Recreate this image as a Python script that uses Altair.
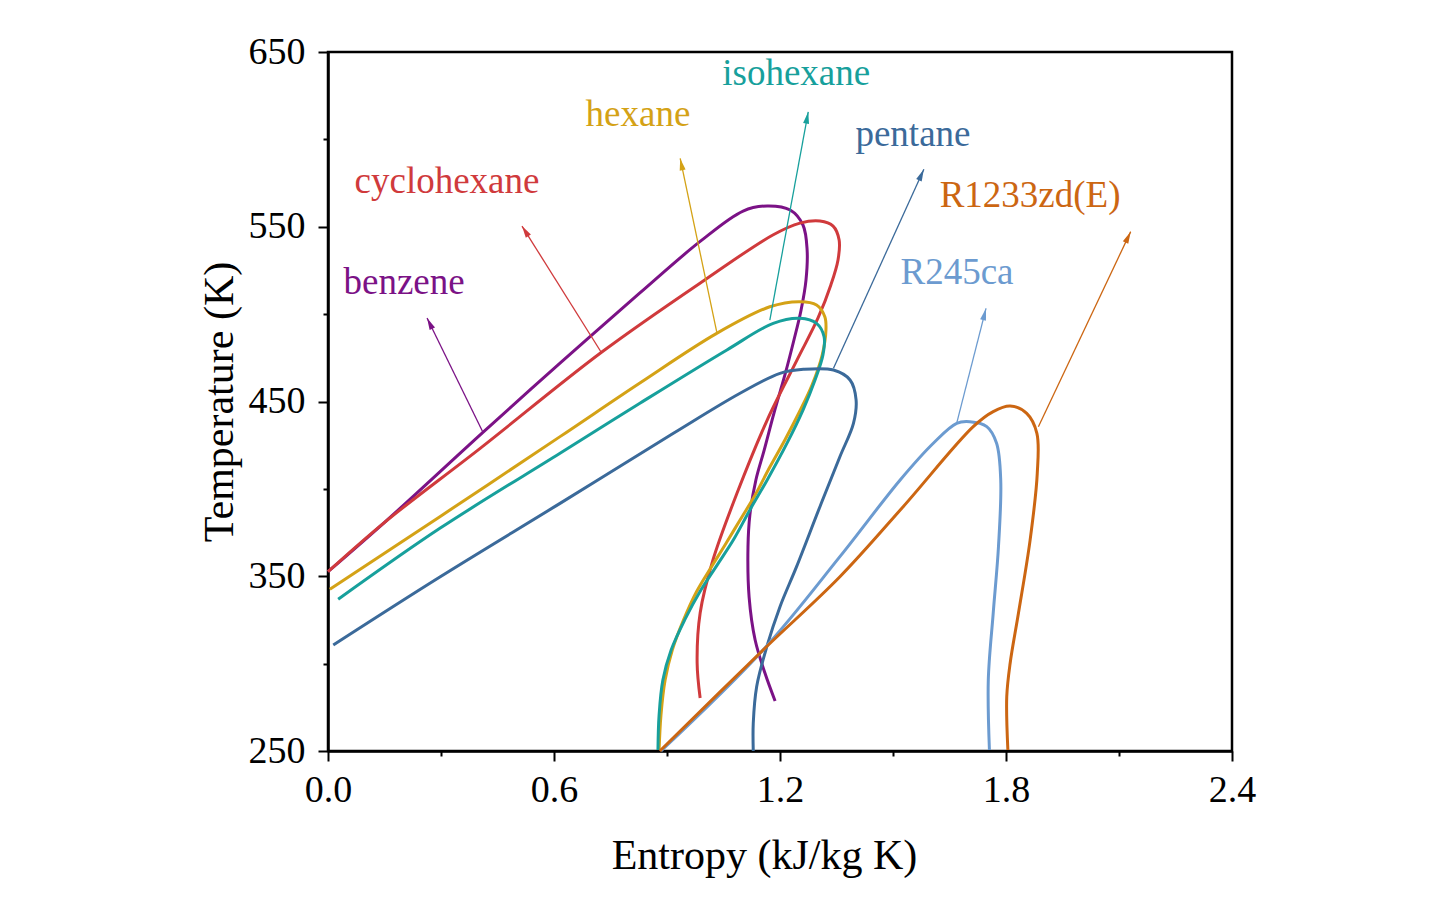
import math
import altair as alt
import pandas as pd

names = ["benzene", "cyclohexane", "hexane", "isohexane", "pentane", "R245ca", "R1233zd(E)"]
colors = ["#7B1286", "#D03A3C", "#D4A216", "#17A09C", "#3B6A9A", "#6C9BD0", "#CC6612"]

benzene_s = [0.000, 0.151, 0.412, 0.616, 0.828, 0.988, 1.102, 1.166, 1.227, 1.261, 1.272, 1.269, 1.256,
             1.237, 1.213, 1.184, 1.158, 1.136, 1.120, 1.115, 1.118, 1.134, 1.160, 1.187]
benzene_T = [352.6, 381.0, 432.5, 471.9, 512.1, 541.6, 559.0, 561.9, 559.6, 551.0, 536.7, 519.5, 502.4,
             485.2, 465.2, 443.4, 422.2, 405.1, 385.0, 366.7, 338.1, 313.5, 294.6, 278.6]

cyclohexane_s = [0.000, 0.151, 0.404, 0.727, 1.004, 1.181, 1.253, 1.306, 1.341, 1.357, 1.354, 1.335, 1.301,
                 1.245, 1.166, 1.086, 1.022, 0.988, 0.980, 0.988]
cyclohexane_T = [352.6, 381.0, 423.2, 478.3, 520.1, 545.3, 552.1, 553.3, 550.4, 542.4, 531.0, 516.7, 497.8,
                 473.7, 439.4, 397.6, 359.3, 329.0, 300.4, 280.3]

hexane_s = [0.005, 0.297, 0.616, 0.828, 1.032, 1.173, 1.253, 1.297, 1.319, 1.322, 1.312, 1.285, 1.250,
            1.213, 1.173, 1.134, 1.094, 1.054, 1.016, 0.978, 0.944, 0.914, 0.895, 0.884, 0.879]
hexane_T = [342.5, 384.1, 429.9, 460.6, 489.0, 504.2, 507.1, 505.2, 498.5, 490.9, 476.6, 459.4, 443.4,
            428.0, 412.5, 396.5, 382.2, 367.9, 354.7, 341.0, 325.0, 307.8, 290.6, 270.6, 250.6]

isohexane_s = [0.027, 0.297, 0.616, 0.828, 1.059, 1.182, 1.253, 1.297, 1.317, 1.314, 1.293, 1.261, 1.219,
               1.166, 1.120, 1.076, 1.033, 0.990, 0.947, 0.911, 0.889, 0.879, 0.876]
isohexane_T = [336.8, 377.4, 420.4, 449.0, 479.5, 494.7, 497.6, 494.7, 487.1, 476.6, 462.3, 445.1, 426.3,
               405.1, 387.9, 370.7, 356.4, 342.1, 325.0, 307.8, 290.6, 270.6, 250.6]

pentane_s = [0.014, 0.297, 0.616, 0.917, 1.094, 1.200, 1.262, 1.342, 1.386, 1.402, 1.395, 1.359, 1.306,
             1.244, 1.200, 1.165, 1.138, 1.129, 1.129]
pentane_T = [310.7, 349.6, 391.7, 431.8, 454.7, 466.1, 468.4, 468.0, 462.3, 450.9, 437.5, 418.4, 389.8,
             355.5, 332.6, 309.7, 286.8, 265.9, 250.0]

r245ca_s = [0.884, 1.155, 1.359, 1.519, 1.607, 1.669, 1.704, 1.749, 1.775, 1.786, 1.780, 1.766, 1.753, 1.756]
r245ca_T = [250.0, 307.8, 361.2, 405.1, 426.1, 437.5, 438.4, 435.6, 426.1, 405.1, 366.9, 328.8, 290.6, 250.6]

r1233_s = [0.881, 1.155, 1.359, 1.527, 1.713, 1.766, 1.811, 1.855, 1.882, 1.883, 1.864, 1.833, 1.811, 1.802, 1.805]
r1233_T = [250.0, 307.8, 349.7, 389.8, 435.6, 444.2, 447.4, 443.2, 431.8, 408.9, 370.7, 328.8, 300.2, 281.1, 250.6]

curves_s = [benzene_s, cyclohexane_s, hexane_s, isohexane_s, pentane_s, r245ca_s, r1233_s]
curves_T = [benzene_T, cyclohexane_T, hexane_T, isohexane_T, pentane_T, r245ca_T, r1233_T]

# labels
label_s = [0.202, 0.316, 0.823, 1.243, 1.553, 1.670, 1.864]
label_T = [517.8, 575.6, 613.9, 637.4, 602.5, 523.5, 567.6]

# arrows: start on curve -> arrow head
arrow_s0 = [0.411, 0.727, 1.032, 1.173, 1.342, 1.669, 1.886]
arrow_T0 = [432.5, 477.6, 489.9, 496.6, 469.0, 437.5, 435.6]
arrow_s1 = [0.263, 0.515, 0.935, 1.275, 1.582, 1.747, 2.131]
arrow_T1 = [497.8, 550.4, 589.1, 615.8, 582.9, 503.3, 547.2]

x_ticks = [0.0, 0.3, 0.6, 0.9, 1.2, 1.5, 1.8, 2.1, 2.4]
y_ticks = [250, 300, 350, 400, 450, 500, 550, 600, 650]

W, H = 904, 699
XMAX, YMIN, YMAX = 2.4, 250, 650

rows = []
for n, ss, tt in zip(names, curves_s, curves_T):
    for i, (a, b) in enumerate(zip(ss, tt)):
        rows.append({"name": n, "s": a, "T": b, "i": i})
df_lines = pd.DataFrame(rows)

arows = []
for n, a0, b0, a1, b1 in zip(names, arrow_s0, arrow_T0, arrow_s1, arrow_T1):
    dx = (a1 - a0) * W / XMAX
    dy = (b1 - b0) * H / (YMAX - YMIN)
    ang = math.degrees(math.atan2(dx, dy)) % 360
    arows.append({"name": n, "s0": a0, "T0": b0, "s1": a1, "T1": b1, "ang": ang})
df_arrows = pd.DataFrame(arows)

df_labels = pd.DataFrame({"name": names, "s": label_s, "T": label_T})

FONT = "Liberation Serif"
cscale = alt.Scale(domain=names, range=colors)
xscale = alt.Scale(domain=[0, XMAX], nice=False, zero=False)
yscale = alt.Scale(domain=[YMIN, YMAX], nice=False, zero=False)

x_axis = alt.Axis(
    values=x_ticks,
    title="Entropy (kJ/kg K)",
    labelExpr="round(datum.value*10) % 6 == 0 ? format(datum.value, '.1f') : ''",
    tickSize={"condition": {"test": "round(datum.value*10) % 6 == 0", "value": 10}, "value": 5},
    labelPadding=10,
    labelFlush=False,
    titlePadding=26,
    titleX=436,
    titleAlign="center",
    grid=False,
)
y_axis = alt.Axis(
    values=y_ticks,
    title="Temperature (K)",
    labelExpr="datum.value % 100 == 50 ? datum.label : ''",
    tickSize={"condition": {"test": "datum.value % 100 == 50", "value": 10}, "value": 5},
    labelPadding=13,
    labelFlush=False,
    titlePadding=7,
    grid=False,
)

lines = alt.Chart(df_lines).mark_line(strokeWidth=3, interpolate="catmull-rom").encode(
    x=alt.X("s:Q", scale=xscale, axis=x_axis),
    y=alt.Y("T:Q", scale=yscale, axis=y_axis),
    color=alt.Color("name:N", scale=cscale, legend=None),
    detail="name:N",
    order="i:Q",
)

rules = alt.Chart(df_arrows).mark_rule(strokeWidth=1.3).encode(
    x="s0:Q", y="T0:Q", x2="s1:Q", y2="T1:Q",
    color=alt.Color("name:N", scale=cscale, legend=None),
)

heads = alt.Chart(df_arrows).mark_point(
    shape="M0,0L0.5,2L-0.5,2Z", filled=True, size=144, opacity=1, strokeWidth=0
).encode(
    x="s1:Q", y="T1:Q",
    angle=alt.Angle("ang:Q", scale=None),
    color=alt.Color("name:N", scale=cscale, legend=None),
)

texts = alt.Chart(df_labels).mark_text(
    font=FONT, fontSize=37, align="center", baseline="middle"
).encode(
    x="s:Q", y="T:Q", text="name:N",
    color=alt.Color("name:N", scale=cscale, legend=None),
)

chart = alt.layer(lines, rules, heads, texts).properties(
    width=W, height=H,
    autosize=alt.AutoSizeParams(type="none"),
    padding={"left": 320, "top": 44, "right": 200, "bottom": 140},
    background="white",
).configure_view(
    stroke="black", strokeWidth=2.5
).configure_axis(
    labelFont=FONT, titleFont=FONT, labelFontSize=38, titleFontSize=42,
    titleFontWeight="normal", labelColor="black", titleColor="black",
    domainColor="black", domainWidth=2.5, tickColor="black", tickWidth=2,
)

chart.save("out.html", embed_options={"renderer": "svg", "actions": False})
